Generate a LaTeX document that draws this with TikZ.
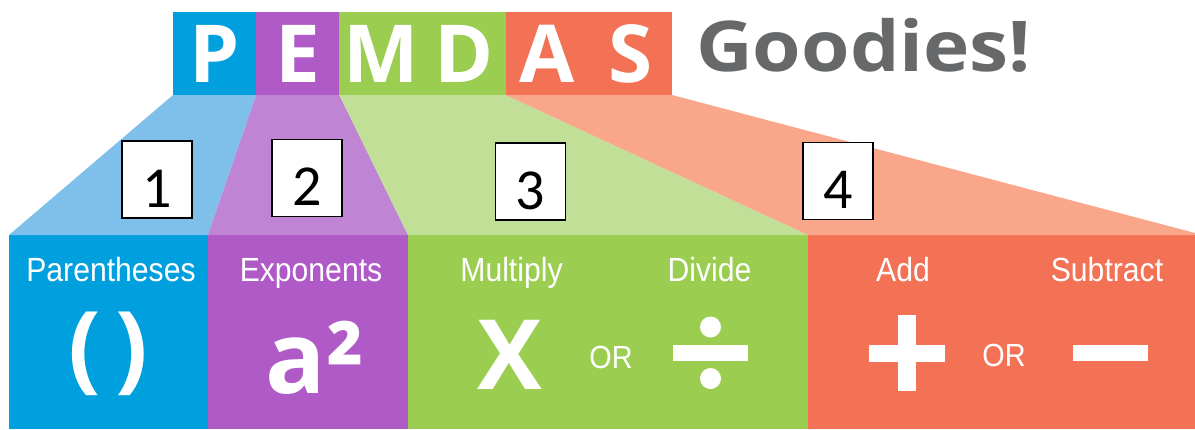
\documentclass[tikz,border=0pt]{standalone}
\usepackage{fontspec}
\usepackage{tikz}
\usetikzlibrary{positioning}
\newfontfamily\litfont{Open Sans}
\newfontfamily\goodfont[FakeStretch=1.12]{Open Sans}
\newfontfamily\etfont[FakeStretch=0.9]{Liberation Sans}
\newfontfamily\numfont{Carlito}
\definecolor{cblue}{RGB}{0,160,223}
\definecolor{lblue}{RGB}{126,192,234}
\definecolor{cpurple}{RGB}{175,90,198}
\definecolor{lpurple}{RGB}{191,132,211}
\definecolor{cgreen}{RGB}{155,205,80}
\definecolor{lgreen}{RGB}{193,223,151}
\definecolor{cred}{RGB}{243,114,86}
\definecolor{lred}{RGB}{250,166,139}
\definecolor{cgrey}{RGB}{103,104,106}
\tikzset{
  letterbox/.style = {minimum width=83.17pt, minimum height=83pt, inner sep=0pt,
                      outer sep=0pt, text=white, text height=57pt, text depth=0pt,
                      font=\litfont\bfseries\fontsize{80}{80}\selectfont},
  panel/.style     = {minimum height=194pt, inner sep=0pt, outer sep=0pt},
  heading/.style   = {text=white, inner sep=0pt, anchor=base,
                      font=\etfont\fontsize{33.5}{36}\selectfont},
  orword/.style    = {heading, font=\etfont\fontsize{32}{34}\selectfont},
  symbol/.style    = {text=white, inner sep=0pt,
                      font=\litfont\bfseries\fontsize{80}{80}\selectfont},
  numbox/.style    = {draw=black, line width=1.5pt, fill=white, inner sep=0pt,
                      minimum width=70pt, text height=66pt, text depth=11pt,
                      font=\numfont\fontsize{58}{58}\selectfont}
}
\begin{document}
\begin{tikzpicture}[x=1pt, y=-1pt, node distance=0pt]
    \useasboundingbox (0,0) rectangle (1195,429);
    % top row of letters
    \node[letterbox, fill=cblue] (P) at (214.6,53.5) {P};
    \node[letterbox, fill=cpurple, right=of P] (E) {E};
    \node[letterbox, fill=cgreen, right=of E] (M) {M};
    \node[letterbox, fill=cgreen, right=of M] (D) {D};
    \node[letterbox, fill=cred, right=of D] (A) {A};
    \node[letterbox, fill=cred, right=of A] (S) {S};
    \node[anchor=base west, inner sep=0pt, text=cgrey,
          font=\goodfont\bfseries\fontsize{70}{70}\selectfont] (good) at (696,71) {Goodies!};

    % panels
    \node[panel, fill=cblue, minimum width=199pt, anchor=north west] (par) at (9,235) {};
    \node[panel, fill=cpurple, minimum width=200pt, right=of par] (exp) {};
    \node[panel, fill=cgreen, minimum width=400pt, right=of exp] (mul) {};
    \node[panel, fill=cred, minimum width=387pt, right=of mul] (add) {};

    % fans
    \fill[lblue] (P.south west) -- (P.south east) -- (par.north east) -- (par.north west) -- cycle;
    \fill[lpurple] (E.south west) -- (E.south east) -- (exp.north east) -- (exp.north west) -- cycle;
    \fill[lgreen] (M.south west) -- (D.south east) -- (mul.north east) -- (mul.north west) -- cycle;
    \fill[lred] (A.south west) -- (S.south east) -- (1195,233) -- (add.north east) -- (add.north west) -- cycle;

    \node[numbox] (n1) at (157,179.5) {1};
    \node[numbox] (n2) at (307,178) {2};
    \node[numbox] (n3) at (530.5,181.5) {3};
    \node[numbox] (n4) at (838,181) {4};

    % headings
    \node[heading] (tpar) at (111,281) {Parentheses};
    \node[heading] (texp) at (311,281) {Exponents};
    \node[heading] (tmul) at (511.5,281) {Multiply};
    \node[heading] (tdiv) at (709.5,281) {Divide};
    \node[heading] (tadd) at (903,281) {Add};
    \node[heading] (tsub) at (1107,281) {Subtract};

    % symbols
    \node[symbol, font=\litfont\bfseries\fontsize{96}{96}\selectfont] (spar) at (108.5,354) {(\hspace{14pt})};
    \node[symbol, font=\litfont\bfseries\fontsize{100}{100}\selectfont] (sexp) at (315,358) {a²};
    \node[symbol, font=\litfont\bfseries\fontsize{97}{97}\selectfont] (smul) at (510,354.5) {X};
    \node[orword] (or1) at (611,368) {OR};
    \node[orword] (or2) at (1004,366) {OR};
    \fill[white] (673,345) rectangle (748,361);
    \fill[white] (710.5,327) circle[radius=10.5];
    \fill[white] (710.5,378.5) circle[radius=10.5];
    \fill[white] (869,345) rectangle (945,362);
    \fill[white] (898,315) rectangle (916,391);
    \fill[white] (1073,345) rectangle (1148,361);
\end{tikzpicture}
\end{document}
